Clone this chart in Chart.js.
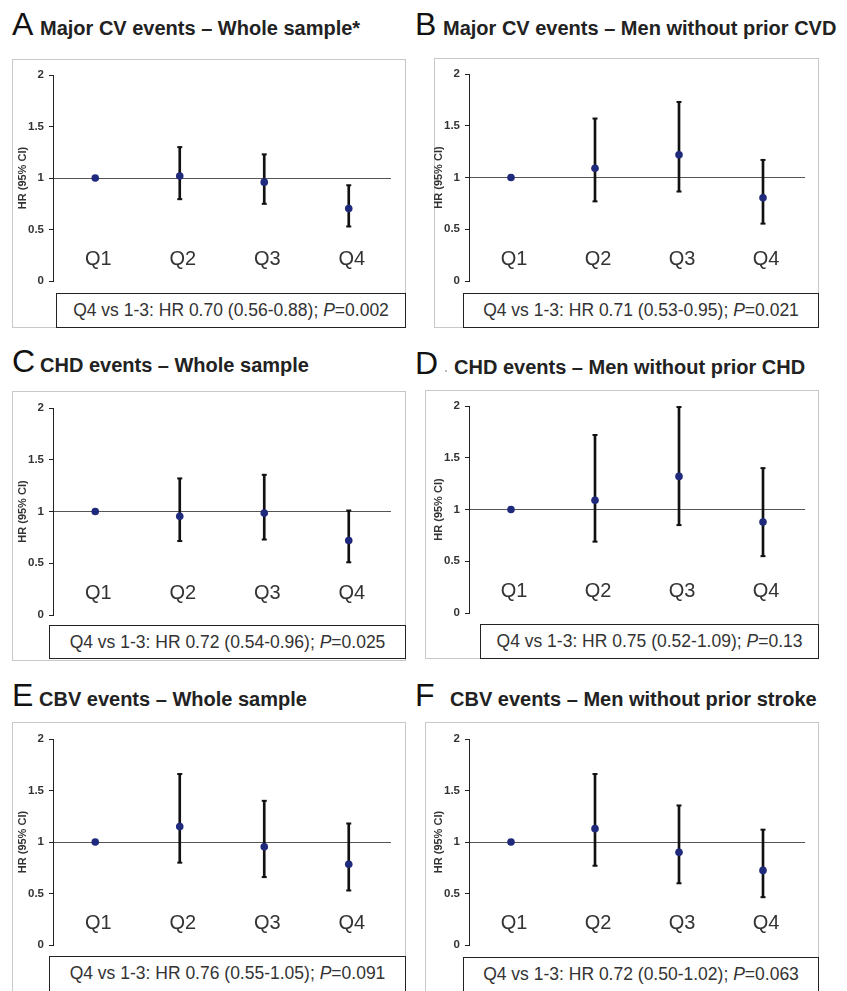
<!DOCTYPE html>
<html>
<head>
<meta charset="utf-8">
<script src="https://cdn.jsdelivr.net/npm/chart.js@4.4.1/dist/chart.umd.min.js"></script>
<style>
  body { margin: 0; width: 847px; height: 991px; position: relative; overflow: hidden; background: #fff;
         font-family: "Liberation Sans", Arial, sans-serif; }
  .letter { position: absolute; font-size: 32px; line-height: 1; color: #111; }
  .title { position: absolute; font-size: 20px; line-height: 1; font-weight: bold; color: #222; white-space: nowrap; }
  .frame { position: absolute; border: 1px solid #c8c8c8; box-sizing: border-box; }
  .note { position: absolute; border: 1.5px solid #222; box-sizing: border-box; background: #fff;
          font-size: 17.5px; line-height: 32px; color: #333; text-align: center; white-space: nowrap; }
  canvas { position: absolute; }
</style>
</head>
<body>
<script>
// quartile categories and axis ticks
const quartiles = ["Q1", "Q2", "Q3", "Q4"];
const yTicks = [0, 0.5, 1, 1.5, 2];

// hazard ratios (point) with 95% CI, Q1 is the reference
const hrA = [1, 1.02, 0.96, 0.705];
const loA = [null, 0.795, 0.75, 0.53];
const hiA = [null, 1.30, 1.23, 0.93];

const hrB = [1, 1.09, 1.22, 0.805];
const loB = [null, 0.77, 0.865, 0.555];
const hiB = [null, 1.57, 1.73, 1.17];

const hrC = [1, 0.955, 0.985, 0.72];
const loC = [null, 0.715, 0.73, 0.51];
const hiC = [null, 1.32, 1.355, 1.01];

const hrD = [1, 1.09, 1.32, 0.88];
const loD = [null, 0.69, 0.85, 0.55];
const hiD = [null, 1.72, 1.99, 1.40];

const hrE = [1, 1.15, 0.955, 0.785];
const loE = [null, 0.80, 0.66, 0.53];
const hiE = [null, 1.66, 1.40, 1.18];

const hrF = [1, 1.13, 0.90, 0.725];
const loF = [null, 0.77, 0.60, 0.465];
const hiF = [null, 1.66, 1.355, 1.12];

const letters = ["A", "B", "C", "D", "E", "F"];
const titles = [
  "Major CV events \u2013 Whole sample*",
  "Major CV events \u2013 Men without prior CVD",
  "CHD events \u2013 Whole sample",
  "CHD events \u2013 Men without prior CHD",
  "CBV events \u2013 Whole sample",
  "CBV events \u2013 Men without prior stroke"
];
const notes = [
  ["0.70", "0.56-0.88", "0.002"],
  ["0.71", "0.53-0.95", "0.021"],
  ["0.72", "0.54-0.96", "0.025"],
  ["0.75", "0.52-1.09", "0.13"],
  ["0.76", "0.55-1.05", "0.091"],
  ["0.72", "0.50-1.02", "0.063"]
];
const series = [
  [hrA, loA, hiA], [hrB, loB, hiB], [hrC, loC, hiC],
  [hrD, loD, hiD], [hrE, loE, hiE], [hrF, loF, hiF]
];

// page layout of each panel (pixels)
const layout = [
  { lx: 12,  tx: 40,  base: 35,  ax: 53,  y2: 75,  y0: 283, r: 393, frame: [12, 59, 394, 269],  note: [56, 293, 350, 35] },
  { lx: 415, tx: 443, base: 35,  ax: 469, y2: 74,  y0: 283, r: 807, frame: [434, 58, 385, 270], note: [463, 293, 356, 35] },
  { lx: 12,  tx: 40,  base: 372, ax: 53,  y2: 408, y0: 617, r: 393, frame: [12, 391, 394, 270], note: [49, 625, 357, 34] },
  { lx: 415, tx: 454, base: 374, ax: 469, y2: 406, y0: 615, r: 807, frame: [425, 390, 394, 269], note: [480, 624, 339, 35] },
  { lx: 12,  tx: 39,  base: 706, ax: 53,  y2: 739, y0: 947, r: 393, frame: [12, 722, 394, 300], note: [49, 956, 357, 60] },
  { lx: 415, tx: 450, base: 706, ax: 469, y2: 739, y0: 947, r: 807, frame: [425, 722, 394, 300], note: [463, 957, 356, 60] }
];

// Q labels sit inside the plot
const quartileLabels = {
  id: "quartileLabels",
  afterDatasetsDraw(chart) {
    const { ctx, scales: { x, y } } = chart;
    ctx.save();
    ctx.font = '20px "Liberation Sans", Arial, sans-serif';
    ctx.fillStyle = "#333";
    ctx.textAlign = "center";
    ctx.textBaseline = "middle";
    chart.data.labels.forEach((lab, i) => {
      ctx.fillText(lab, x.getPixelForValue(i) + 3, y.getPixelForValue(0.21));
    });
    ctx.restore();
  }
};

function box(cls, rect, html) {
  const d = document.createElement("div");
  d.className = cls;
  d.style.left = rect[0] + "px";
  d.style.top = rect[1] + "px";
  d.style.width = rect[2] + "px";
  d.style.height = rect[3] + "px";
  if (html) d.innerHTML = html;
  document.body.appendChild(d);
}

layout.forEach((p, k) => {
  box("frame", p.frame);

  const letter = document.createElement("div");
  letter.className = "letter";
  letter.textContent = letters[k];
  letter.style.left = p.lx + "px";
  letter.style.top = (p.base - 27) + "px";
  document.body.appendChild(letter);

  const title = document.createElement("div");
  title.className = "title";
  title.textContent = titles[k];
  title.style.left = p.tx + "px";
  title.style.top = (p.base - 17) + "px";
  document.body.appendChild(title);

  const cv = document.createElement("canvas");
  const w = p.r - p.ax + 44, h = p.y0 - p.y2 + 26;
  cv.width = w; cv.height = h;
  cv.style.left = (p.ax - 40) + "px";
  cv.style.top = (p.y2 - 16) + "px";
  document.body.appendChild(cv);

  const [hr, lo, hi] = series[k];
  new Chart(cv, {
    type: "bar",
    data: {
      labels: quartiles,
      datasets: [
        { data: lo.map((v, i) => v == null ? null : [v, hi[i]]), backgroundColor: "#111",
          barThickness: 2, order: 3 },
        { type: "line", data: lo, showLine: false, pointStyle: "line", pointRadius: 2.5,
          borderColor: "#111", borderWidth: 2, order: 2 },
        { type: "line", data: hi, showLine: false, pointStyle: "line", pointRadius: 2.5,
          borderColor: "#111", borderWidth: 2, order: 2 },
        { type: "line", data: hr, showLine: false, pointStyle: "circle", pointRadius: 3.8,
          backgroundColor: "#1f2a7c", borderColor: "#1f2a7c", borderWidth: 0, order: 1 }
      ]
    },
    options: {
      responsive: false,
      animation: false,
      layout: { padding: { top: 16, bottom: 10, right: 4, left: 0 } },
      plugins: { legend: { display: false }, tooltip: { enabled: false } },
      scales: {
        x: { display: false, offset: true },
        y: {
          min: 0, max: 2,
          afterBuildTicks: s => { s.ticks = yTicks.map(v => ({ value: v })); },
          afterFit: s => { s.width = 40; },
          ticks: { font: { size: 11.5, weight: "bold", family: '"Liberation Sans", Arial' }, color: "#333",
                   padding: 5, callback: v => String(v) },
          grid: {
            color: c => (c.tick && c.tick.value === 1) ? "#555" : "rgba(0,0,0,0)",
            tickColor: "#222", tickLength: 4, lineWidth: 1
          },
          border: { display: true, color: "#222", width: 1 },
          title: { display: true, text: "HR (95% CI)", color: "#333", padding: { top: 3, bottom: 0 },
                   font: { size: 11, weight: "bold", family: '"Liberation Sans", Arial' } }
        }
      }
    },
    plugins: [quartileLabels]
  });

  const n = notes[k];
  box("note", p.note, "Q4 vs 1-3: HR " + n[0] + " (" + n[1] + "); <i>P</i>=" + n[2]);
});

// small stray mark next to D
const dot = document.createElement("div");
dot.style.cssText = "position:absolute;left:445px;top:370px;width:2px;height:2px;background:#bbb";
document.body.appendChild(dot);
</script>
</body>
</html>
